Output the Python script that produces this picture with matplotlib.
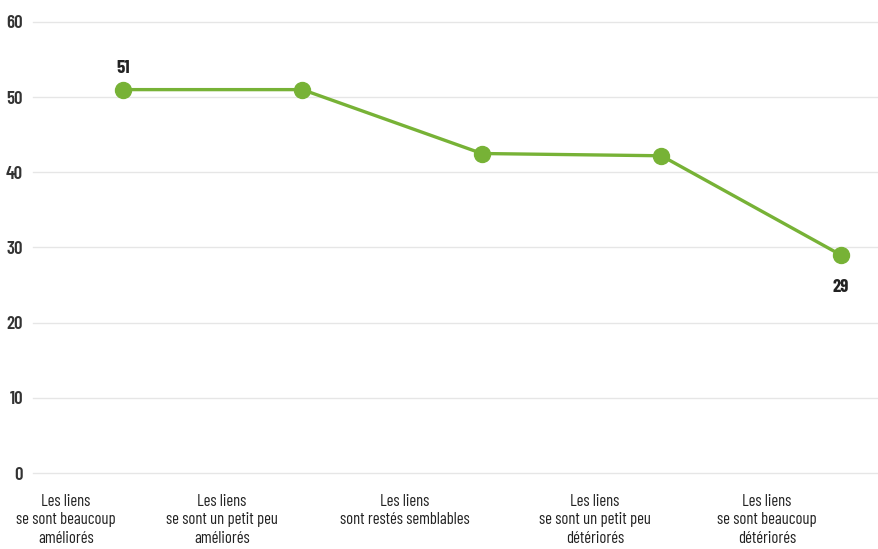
import matplotlib

matplotlib.use("Agg")
import matplotlib.pyplot as plt

# evolution of ties, share of respondents (%)
categories = [
    "Les liens\nse sont beaucoup\naméliorés",
    "Les liens\nse sont un petit peu\naméliorés",
    "Les liens\nsont restés semblables",
    "Les liens\nse sont un petit peu\ndétériorés",
    "Les liens\nse sont beaucoup\ndétériorés",
]
values = [51, 51, 42.5, 42.2, 29]
label_pos = [-0.318, 0.552, 1.571, 2.630, 3.588]
yticks = [0, 10, 20, 30, 40, 50, 60]

plt.rcParams["font.family"] = ["Barlow Condensed", "Archivo Narrow", "DejaVu Sans"]

green = "#77b236"

fig = plt.figure(figsize=(8.79, 5.49), dpi=100)
ax = fig.add_axes([0.0375, 0.1384, 0.9625, 0.8216])

xs = list(range(len(values)))
ax.plot(xs, values, color=green, linewidth=2.4, marker="o", markersize=11.5,
        solid_capstyle="round", zorder=3)

ax.annotate(f"{values[0]:g}", (xs[0], values[0]), xytext=(0, 9), textcoords="offset points",
            ha="center", va="bottom", fontsize=13.5, fontweight="bold", color="#222222")
ax.annotate(f"{values[-1]:g}", (xs[-1], values[-1]), xytext=(0, -17), textcoords="offset points",
            ha="center", va="top", fontsize=13.5, fontweight="bold", color="#222222")

ax.set_ylim(0, 60)
ax.set_xlim(-0.501, 4.212)
ax.set_yticks(yticks)
ax.set_yticklabels([str(t) for t in yticks], fontsize=13.5, fontweight="semibold", color="#333333")
ax.set_xticks(label_pos)
ax.set_xticklabels(categories, fontsize=12, color="#222222", linespacing=1.28)
ax.tick_params(axis="both", length=0)
ax.tick_params(axis="y", pad=7)
ax.tick_params(axis="x", pad=15)
ax.grid(axis="y", color="#e6e6e6", linewidth=1, clip_on=False)
ax.set_axisbelow(True)
for s in ax.spines.values():
    s.set_visible(False)

fig.savefig("out.png", dpi=100)
